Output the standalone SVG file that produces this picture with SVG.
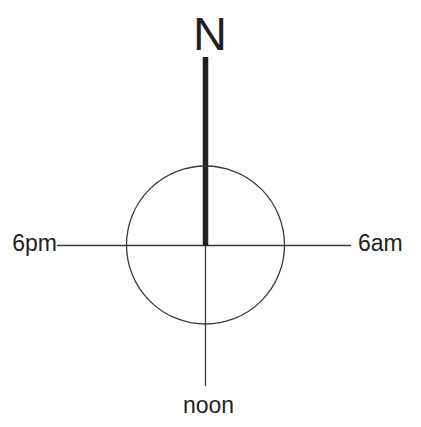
<svg xmlns="http://www.w3.org/2000/svg" width="421" height="427" viewBox="0 0 421 427">
<style>
.t{font-family:"Liberation Sans",Arial,sans-serif;fill:#231f20}
.l{stroke:#3a3a3a;stroke-width:1.3;fill:none}
</style>
<rect width="421" height="427" fill="#fff"/>
<g id="connectors">
<line class="l" x1="57" y1="245.5" x2="351" y2="245.5"/>
<line class="l" x1="205.5" y1="245" x2="205.5" y2="386"/>
<line x1="205.5" y1="57" x2="205.5" y2="246" stroke="#231f20" stroke-width="5.5"/>
</g>
<g id="circle"><circle class="l" cx="205.5" cy="245" r="79"/></g>
<g id="north"><text class="t" x="210" y="50" font-size="47" text-anchor="middle">N</text></g>
<g id="pm6"><text class="t" x="57" y="251" font-size="23" text-anchor="end">6pm</text></g>
<g id="am6"><text class="t" x="358" y="251" font-size="23">6am</text></g>
<g id="noon"><text class="t" x="208.5" y="413" font-size="23" text-anchor="middle">noon</text></g>
</svg>
